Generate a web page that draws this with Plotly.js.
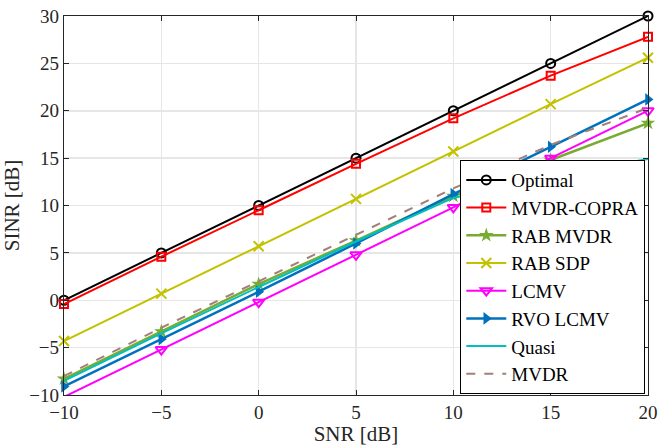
<!DOCTYPE html>
<html><head><meta charset="utf-8">
<script src="https://cdn.plot.ly/plotly-3.0.1.min.js"></script>
<style>body{margin:0;background:#fff;font-family:'Liberation Serif',serif}#c{width:660px;height:446px}
#c text{font-family:'Liberation Serif',serif !important}</style>
</head><body><div id="c"></div>
<script>
const snr = [-10, -5, 0, 5, 10, 15, 20];
const optimal = [0, 5, 10, 15, 20, 25, 30];
const mvdrCopra = [-0.4, 4.6, 9.5, 14.4, 19.2, 23.7, 27.8];
const rabMvdr = [-8.3, -3.3, 1.7, 6.3, 11.0, 14.8, 18.7];
const rabSdp = [-4.3, 0.7, 5.7, 10.7, 15.7, 20.7, 25.6];
const lcmv = [-10.2, -5.2, -0.2, 4.8, 9.8, 15.0, 20.0];
const rvoLcmv = [-9.1, -4.1, 0.9, 6.0, 11.2, 16.2, 21.2];
const quasi = [-8.5, -3.5, 1.4, 6.2, 10.8, 13.1, 14.9];
const mvdr = [-8.0, -2.9, 2.0, 6.9, 11.8, 16.4, 20.3];
const names = ['Optimal','MVDR-COPRA','RAB MVDR','RAB SDP','LCMV','RVO LCMV','Quasi','MVDR'];
const xTicks = [-10, -5, 0, 5, 10, 15, 20];
const yTicks = [-10, -5, 0, 5, 10, 15, 20, 25, 30];

const traces = [
 {y: optimal, name: names[0], line:{color:'#000000', width:2}, marker:{symbol:'circle-open', size:9, color:'#000000', line:{width:2}}},
 {y: mvdrCopra, name: names[1], line:{color:'#ff0000', width:2}, marker:{symbol:'square-open', size:8, color:'#ff0000', line:{width:2}}},
 {y: rabMvdr, name: names[2], line:{color:'#77ac30', width:2.5}, marker:{symbol:'star', size:11, color:'#77ac30'}},
 {y: rabSdp, name: names[3], line:{color:'#c2c200', width:2}, marker:{symbol:'x-thin-open', size:10, color:'#c2c200', line:{width:2, color:'#c2c200'}}},
 {y: lcmv, name: names[4], line:{color:'#ff00ff', width:2}, marker:{symbol:'triangle-down-open', size:10, color:'#ff00ff', line:{width:2}}},
 {y: rvoLcmv, name: names[5], line:{color:'#0072bd', width:2.5}, marker:{symbol:'triangle-right', size:11, color:'#0072bd'}},
 {y: quasi, name: names[6], mode:'lines', line:{color:'#00bfbf', width:2}},
 {y: mvdr, name: names[7], mode:'lines', line:{color:'#a2807a', width:2, dash:'dash'}}
].map(t => Object.assign({x: snr, type:'scatter', mode: t.mode || 'lines+markers', cliponaxis:false}, t));

const fam = 'Liberation Serif';
const layout = {
 width:660, height:446,
 margin:{l:64, r:12, t:16, b:51},
 paper_bgcolor:'#fff', plot_bgcolor:'#fff',
 font: {family:fam, size:19, color:'#262626'},
 showlegend:true,
 legend:{x:0.995, y:0.003, xanchor:'right', yanchor:'bottom', bgcolor:'#fff', bordercolor:'#000', borderwidth:1.2,
   font:{family:fam, size:19, color:'#000'}, tracegroupgap:0, itemwidth:40},
 xaxis:{range:[-10,20], tickvals:xTicks, ticks:'inside', ticklen:5, tickcolor:'#262626',
   ticklabeloverflow:'allow', tickfont:{family:fam, size:19, color:'#262626'},
   showgrid:true, gridcolor:'#e6e6e6', gridwidth:1.5, zeroline:false,
   showline:true, linecolor:'#262626', linewidth:1.2, mirror:'ticks',
   title:{text:'SNR [dB]', font:{family:fam, size:21, color:'#262626'}, standoff:0}},
 yaxis:{range:[-10,30], tickvals:yTicks, ticks:'inside', ticklen:5, tickcolor:'#262626',
   tickfont:{family:fam, size:19, color:'#262626'},
   showgrid:true, gridcolor:'#e6e6e6', gridwidth:1.5, zeroline:false,
   showline:true, linecolor:'#262626', linewidth:1.2, mirror:'ticks',
   title:{text:'SINR [dB]', font:{family:fam, size:21, color:'#262626'}, standoff:6}}
};
Plotly.newPlot('c', traces, layout, {displayModeBar:false, staticPlot:true});
</script></body></html>
